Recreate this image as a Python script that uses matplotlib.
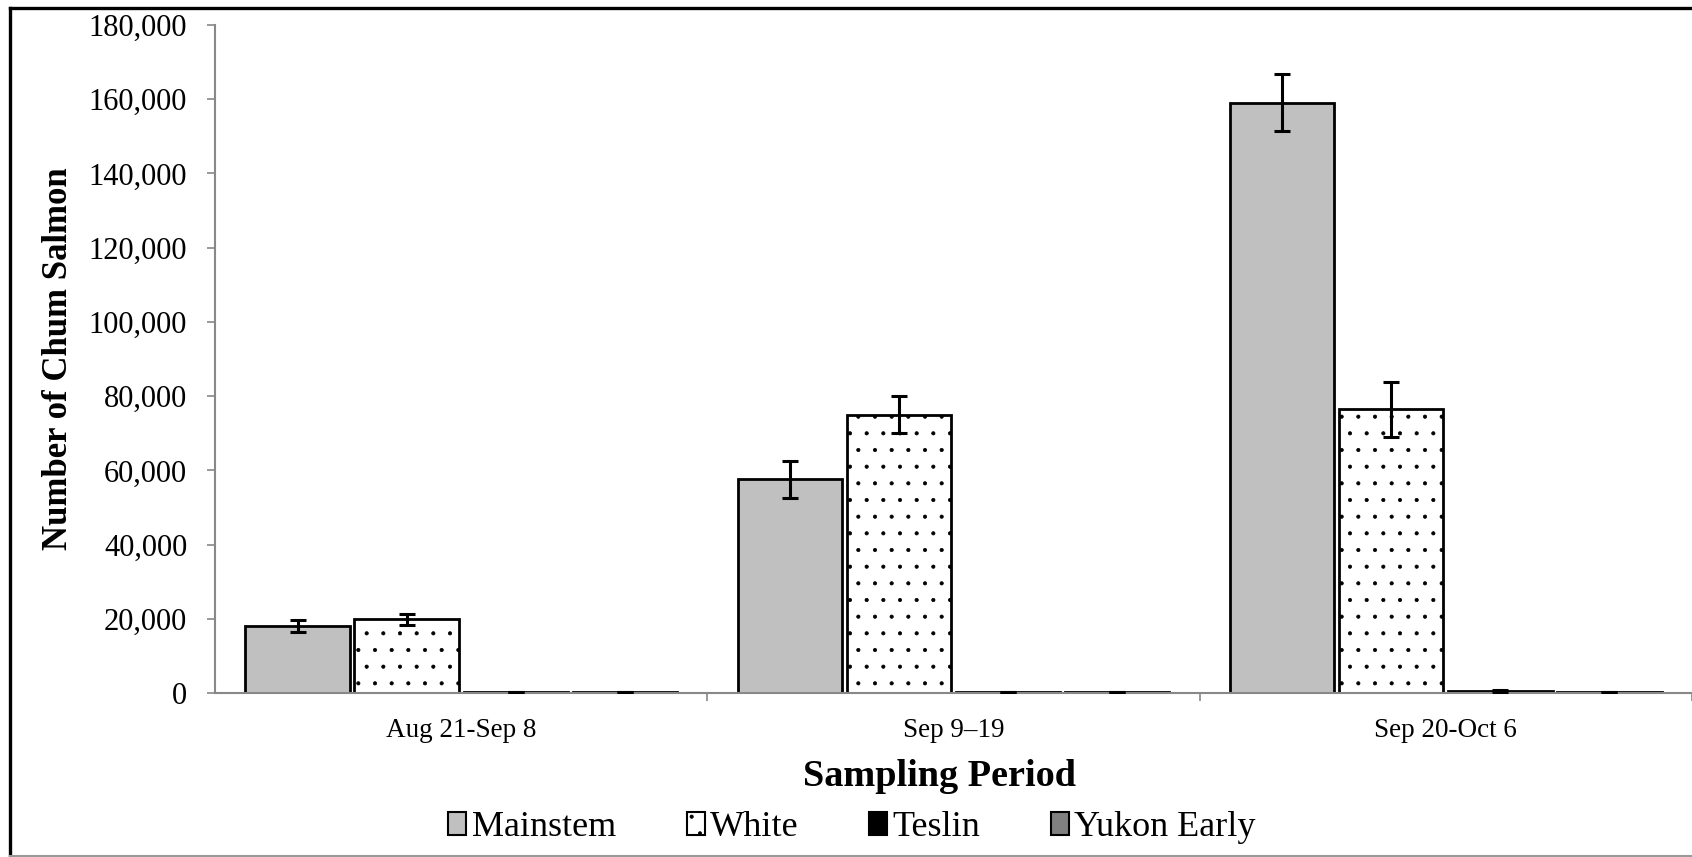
import matplotlib

matplotlib.use("Agg")
import matplotlib.pyplot as plt
import numpy as np
from matplotlib.lines import Line2D
from matplotlib.patches import Patch
from matplotlib.ticker import FuncFormatter

# Chum salmon abundance by sampling period and stock group
periods = ["Aug 21-Sep 8", "Sep 9\u201319", "Sep 20-Oct 6"]
stocks = ["Mainstem", "White", "Teslin", "Yukon Early"]
mainstem = [18050, 57600, 159100]
white = [19850, 75000, 76450]
teslin = [400, 350, 600]
yukon_early = [300, 250, 300]
mainstem_err = [1600, 5000, 7600]
white_err = [1450, 5000, 7400]
teslin_err = [0, 0, 250]
yukon_early_err = [0, 0, 0]

values = [mainstem, white, teslin, yukon_early]
errors = [mainstem_err, white_err, teslin_err, yukon_early_err]
styles = [
    {"facecolor": "#c0c0c0", "hatch": None},
    {"facecolor": "white", "hatch": "."},
    {"facecolor": "black", "hatch": None},
    {"facecolor": "#808080", "hatch": None},
]

plt.rcParams["font.family"] = ["Liberation Serif", "DejaVu Serif"]
plt.rcParams["hatch.linewidth"] = 0.5
plt.rcParams["hatch.color"] = "black"

fig = plt.figure(figsize=(16.92, 8.57), dpi=100)
ax = fig.add_axes([215 / 1692, 1 - 693 / 857, 1 - 215 / 1692, (693 - 25) / 857])

x = np.arange(len(periods))
pitch = 0.2215
width = 0.212
for i, (vals, errs, st) in enumerate(zip(values, errors, styles)):
    pos = x + (i - 1.5) * pitch
    ax.bar(
        pos,
        vals,
        width=width,
        color=st["facecolor"],
        edgecolor="black",
        linewidth=2.0,
        hatch=st["hatch"],
        zorder=2,
    )
    ax.errorbar(
        pos,
        vals,
        yerr=errs,
        fmt="none",
        ecolor="black",
        elinewidth=2.2,
        capsize=6,
        capthick=2.2,
        zorder=3,
    )

ax.set_xlim(-0.5, 2.5)
ax.set_ylim(0, 180000)
ax.set_yticks(np.arange(0, 180001, 20000))
ax.yaxis.set_major_formatter(FuncFormatter(lambda v, _: f"{int(v):,}"))

# category labels centred, ticks on the group boundaries
ax.set_xticks(x)
ax.set_xticklabels(periods, fontsize=19.5)
ax.set_xticks([0.5, 1.5, 2.5], minor=True)
ax.tick_params(axis="x", which="major", length=0, pad=18)
ax.tick_params(axis="x", which="minor", length=6, width=1.2, color="#888888", direction="out")
ax.tick_params(axis="y", length=6, width=1.2, color="#888888", labelsize=22, pad=14)

for side in ("top", "right"):
    ax.spines[side].set_visible(False)
for side in ("left", "bottom"):
    ax.spines[side].set_color("#888888")
    ax.spines[side].set_linewidth(1.5)

ax.set_ylabel("Number of Chum Salmon", fontsize=25, fontweight="bold", labelpad=10)
fig.text(939 / 1692, 1 - 776 / 857, "Sampling Period", fontsize=27.5,
         fontweight="bold", ha="center", va="center")

handles = [
    Patch(facecolor=st["facecolor"], edgecolor="black", linewidth=1.5, hatch=st["hatch"])
    for st in styles
]
fig.legend(
    handles,
    stocks,
    loc="center",
    bbox_to_anchor=(852 / 1692, 1 - 828 / 857),
    ncol=4,
    frameon=False,
    fontsize=26,
    handlelength=0.5,
    handleheight=0.6,
    handletextpad=0.15,
    columnspacing=1.95,
)

# outer frame: dark left/top edges, light bottom edge
fig.add_artist(Line2D([9.5 / 1692, 9.5 / 1692], [0, 1 - 7.5 / 857],
                      transform=fig.transFigure, color="black", linewidth=2.4))
fig.add_artist(Line2D([9.5 / 1692, 1], [1 - 7.5 / 857, 1 - 7.5 / 857],
                      transform=fig.transFigure, color="black", linewidth=2.4))
fig.add_artist(Line2D([9.5 / 1692, 1], [1 / 857, 1 / 857],
                      transform=fig.transFigure, color="#999999", linewidth=1.5))

fig.savefig("out.png", dpi=100)
